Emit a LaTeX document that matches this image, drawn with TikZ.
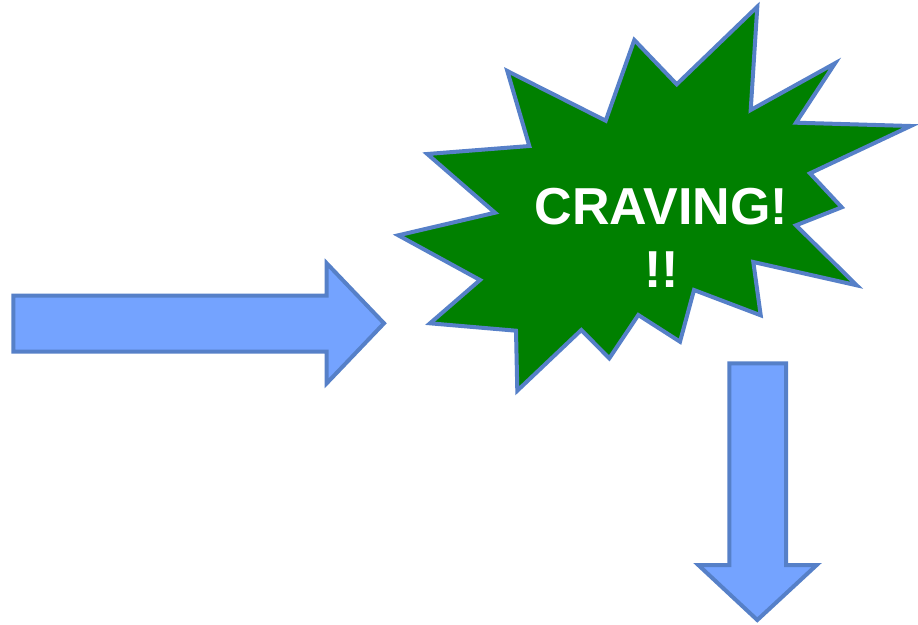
\documentclass[tikz,border=0pt]{standalone}
\usepackage{fontspec}
\setmainfont{Liberation Sans}
\definecolor{arrowfill}{RGB}{116,163,255}
\definecolor{edge}{RGB}{86,128,200}
\definecolor{burst}{RGB}{0,128,0}
\begin{document}
\begin{tikzpicture}[x=1pt,y=-1pt,
  outlined/.style={draw=edge,line width=4pt,line join=miter},
  bigarrow/.style={outlined,fill=arrowfill},
  burstlabel/.style={text=white,font=\fontsize{52}{63}\selectfont\bfseries,align=center,inner sep=0pt}]
\useasboundingbox (0,0) rectangle (918,624);
% starburst
\draw[outlined,fill=burst] (507.3,71) -- (605.7,120.7) -- (634.3,40) -- (676.7,84.3) -- (757.3,6.7)
  -- (750.7,110) -- (835,63.3) -- (796,122.7) -- (910.7,126) -- (810,173.3) -- (841.7,207.3)
  -- (796,225.3) -- (856.7,285.3) -- (753.3,262) -- (760.7,315.3) -- (694,290) -- (680,341.7)
  -- (638.3,315) -- (609.3,358.3) -- (581.3,330) -- (517.3,390.7) -- (516,330.7) -- (430,323.3)
  -- (480,280) -- (398.3,235.3) -- (495,212.7) -- (427.3,154) -- (529.3,146) -- cycle;
\node[burstlabel,anchor=base] (craving) at (661.5,224) {CRAVING!};
\node[burstlabel,anchor=base] (bangs) at (661.5,287.3) {!!};
% right arrow
\draw[bigarrow] (13.3,295.7) -- (326.7,295.7) -- (326.7,263.3) -- (384,323.3) -- (326.7,383.3)
  -- (326.7,351.7) -- (13.3,351.7) -- cycle;
% down arrow
\draw[bigarrow] (729.3,363.3) -- (786,363.3) -- (786,565) -- (816.7,565) -- (757.3,620)
  -- (698.3,565) -- (729.3,565) -- cycle;
\end{tikzpicture}
\end{document}
